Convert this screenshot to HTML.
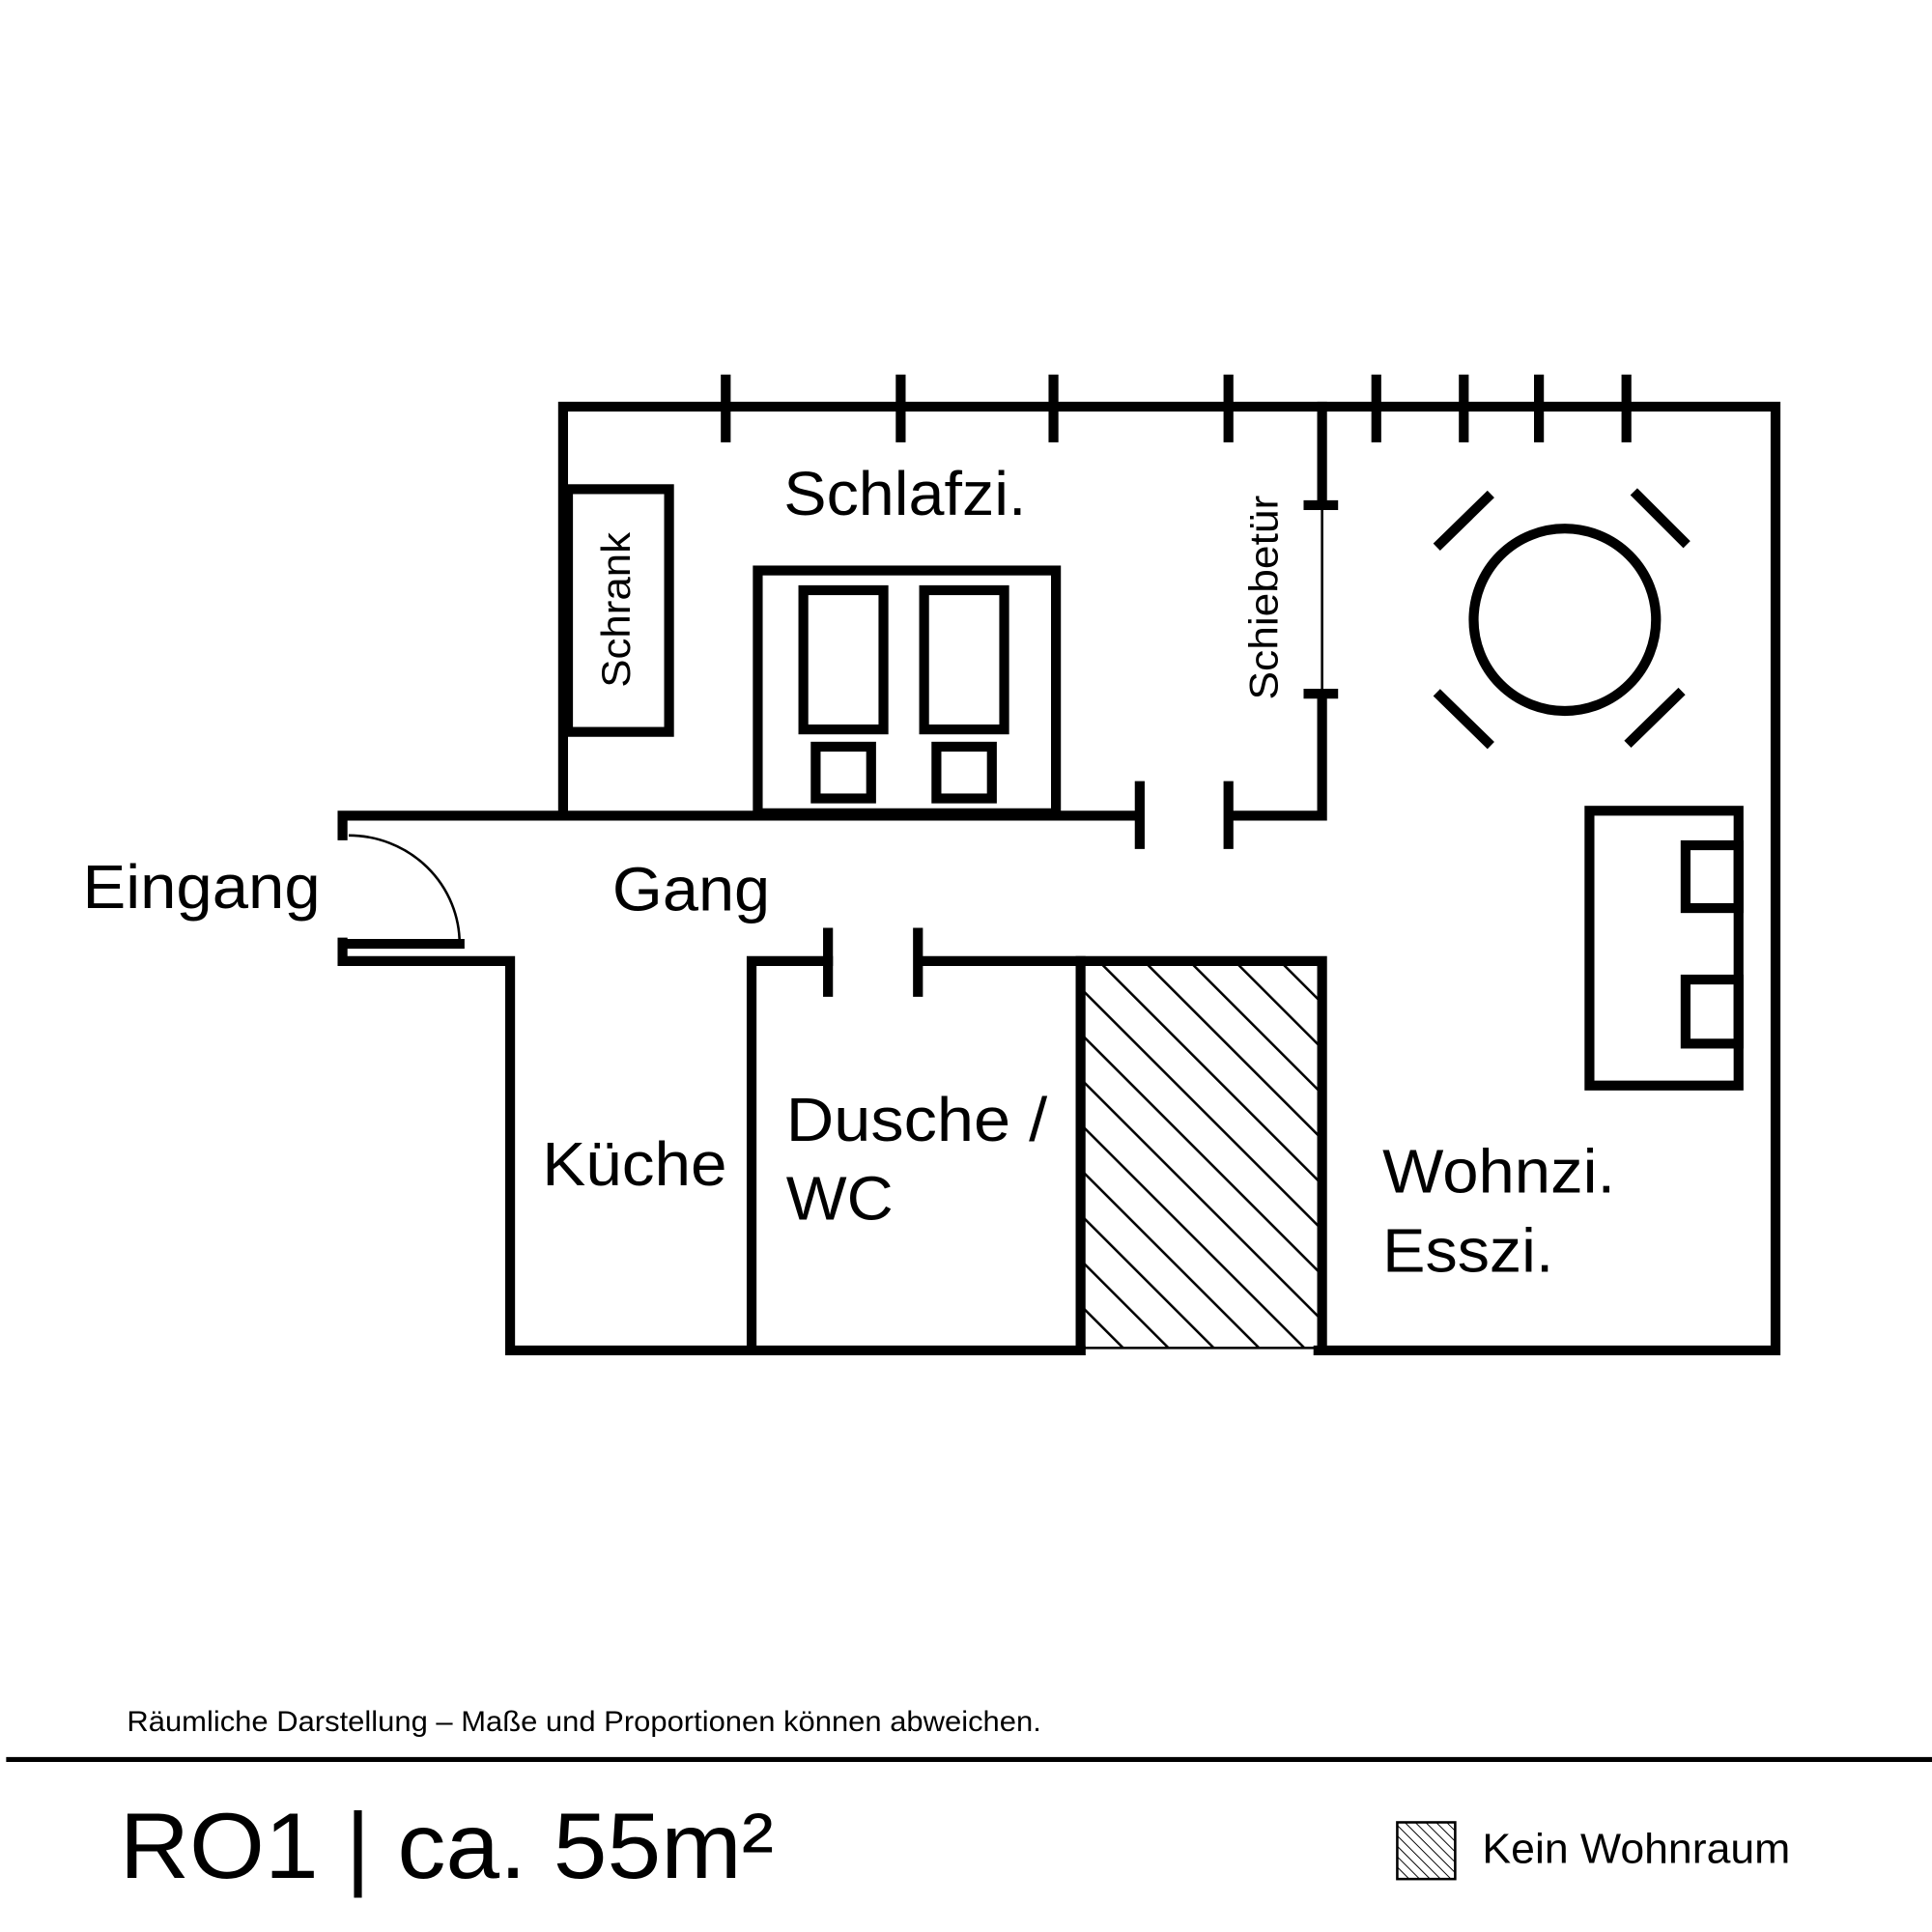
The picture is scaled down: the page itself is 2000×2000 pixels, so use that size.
<!DOCTYPE html>
<html><head><meta charset="utf-8"><style>html,body{margin:0;padding:0;background:#fff}svg{display:block}</style></head>
<body>
<svg width="2000" height="2000" viewBox="0 0 1568 1568" xmlns="http://www.w3.org/2000/svg" font-family="Liberation Sans, Arial, sans-serif">
<defs>
<pattern id="h" patternUnits="userSpaceOnUse" width="26" height="26" patternTransform="rotate(-45)">
<line x1="0" y1="0" x2="0" y2="26" stroke="#000" stroke-width="4"/>
</pattern>
<pattern id="h2" patternUnits="userSpaceOnUse" width="6" height="6" patternTransform="rotate(-45)">
<line x1="0" y1="0" x2="0" y2="6" stroke="#000" stroke-width="1.5"/>
</pattern>
</defs>
<rect width="1568" height="1568" fill="#fff"/>
<rect x="877" y="784" width="194" height="310" fill="url(#h)"/>
<g stroke="#000" stroke-width="8" fill="none" stroke-linecap="square">
<path d="M457 662 V330 H1441 V1096 H1070"/>
<path d="M877 1096 H414 V780 H278 V765"/>
<path d="M278 678 V662 H922"/>
<path d="M1000 662 H1073 V563"/>
<path d="M1073 410 V330"/>
<path d="M672 780 H610 V1096"/>
<path d="M748 780 H1073 V1096"/>
<path d="M877 780 V1096"/>
<path d="M925 638 V685 M997 638 V685 M672 757 V805 M745 757 V805"/>
<path d="M589 308 V355 M731 308 V355 M855 308 V355 M997 308 V355 M1117 308 V355 M1188 308 V355 M1249 308 V355 M1320 308 V355"/>
<path d="M1062 410 H1082 M1062 563 H1082" stroke-width="8"/>
<rect x="461" y="397" width="82" height="197"/>
<rect x="615" y="463" width="242" height="197"/>
<rect x="652" y="479" width="65" height="113"/>
<rect x="750" y="479" width="65" height="113"/>
<rect x="662" y="606" width="45" height="42"/>
<rect x="760" y="606" width="45" height="42"/>
<circle cx="1270" cy="503" r="74"/>
<path d="M1166 444 L1210 401 M1326 399 L1369 442 M1166 562 L1210 605 M1321 604 L1365 561" stroke-linecap="butt"/>
<rect x="1290" y="658" width="121" height="223"/>
<rect x="1368" y="686" width="43" height="51"/>
<rect x="1368" y="795" width="43" height="52"/>
<path d="M283 766 H373"/>
</g>
<g stroke="#000" fill="none" stroke-width="2">
<path d="M1073 410 V563"/>
<path d="M283 678 A90 88 0 0 1 373 766"/>
<path d="M877 1094 H1070"/>
</g>
<g fill="#000" font-size="50">
<text x="636" y="418" textLength="197" lengthAdjust="spacingAndGlyphs">Schlafzi.</text>
<text x="67" y="737" textLength="193" lengthAdjust="spacingAndGlyphs">Eingang</text>
<text x="497" y="739" textLength="128" lengthAdjust="spacingAndGlyphs">Gang</text>
<text x="440" y="962" textLength="150" lengthAdjust="spacingAndGlyphs">Küche</text>
<text x="638" y="926" textLength="212" lengthAdjust="spacingAndGlyphs">Dusche /</text>
<text x="638" y="990" textLength="87" lengthAdjust="spacingAndGlyphs">WC</text>
<text x="1122" y="968" textLength="189" lengthAdjust="spacingAndGlyphs">Wohnzi.</text>
<text x="1122" y="1032" textLength="139" lengthAdjust="spacingAndGlyphs">Esszi.</text>
<text transform="translate(511,495) rotate(-90)" text-anchor="middle" font-size="33" textLength="126" lengthAdjust="spacingAndGlyphs">Schrank</text>
<text transform="translate(1037,485) rotate(-90)" text-anchor="middle" font-size="33" textLength="166" lengthAdjust="spacingAndGlyphs">Schiebetür</text>
<text x="103" y="1405" font-size="23" textLength="742" lengthAdjust="spacingAndGlyphs">Räumliche Darstellung – Maße und Proportionen können abweichen.</text>
<text x="97" y="1524" font-size="76" textLength="531" lengthAdjust="spacingAndGlyphs">RO1 | ca. 55m²</text>
<text x="1203" y="1512" font-size="34" textLength="250" lengthAdjust="spacingAndGlyphs">Kein Wohnraum</text>
</g>
<rect x="5" y="1426" width="1563" height="4" fill="#000"/>
<rect x="1134" y="1479" width="47" height="46" fill="url(#h2)" stroke="#000" stroke-width="2"/>
</svg>
</body></html>
